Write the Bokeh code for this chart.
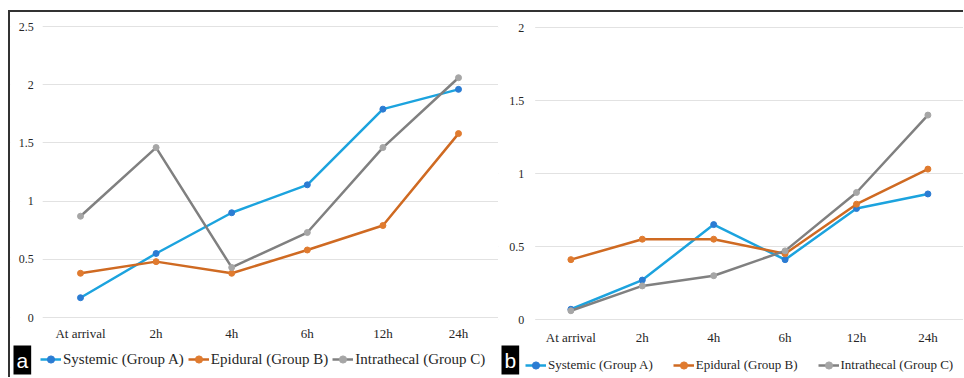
from bokeh.plotting import figure
from bokeh.layouts import row
from bokeh.models import (Legend, LegendItem, Label, FixedTicker, Range1d,
                          BoxAnnotation)
from bokeh.embed import file_html
from bokeh.resources import INLINE

categories = ["At arrival", "2h", "4h", "6h", "12h", "24h"]
series_names = ["Systemic (Group A)", "Epidural (Group B)", "Intrathecal (Group C)"]

# Panel a
a_systemic = [0.17, 0.55, 0.90, 1.14, 1.79, 1.96]
a_epidural = [0.38, 0.48, 0.38, 0.58, 0.79, 1.58]
a_intrathecal = [0.87, 1.46, 0.43, 0.73, 1.46, 2.06]
a_yticks = [0, 0.5, 1, 1.5, 2, 2.5]

# Panel b
b_systemic = [0.07, 0.27, 0.65, 0.41, 0.76, 0.86]
b_epidural = [0.41, 0.55, 0.55, 0.45, 0.79, 1.03]
b_intrathecal = [0.06, 0.23, 0.30, 0.47, 0.87, 1.40]
b_yticks = [0, 0.5, 1, 1.5, 2]

line_colors = ["#1CA3DE", "#CF6A22", "#808080"]
marker_colors = ["#2B7CD3", "#E07B2F", "#A6A6A6"]

SERIF = "Liberation Serif"
TOP, HEIGHT = 12, 365
xs = list(range(len(categories)))


def make_panel(series, yticks, left, width, x0, dx, y0, py,
               ylab_standoff, xlab_standoff, leg_font, leg_spacing, leg_loc, tag):
    x_range = Range1d((left - x0) / dx, (left + width - x0) / dx)
    y_range = Range1d((y0 - (TOP + HEIGHT)) / py, (y0 - TOP) / py)
    p = figure(x_range=x_range, y_range=y_range, width=width, height=HEIGHT,
               output_backend="svg", toolbar_location=None, min_border=0)
    p.min_border_left = 0
    p.min_border_right = 0
    p.min_border_top = 0
    p.min_border_bottom = 0
    p.outline_line_color = None
    p.xgrid.grid_line_color = None
    p.ygrid.grid_line_color = "#E2E2E2"
    p.ygrid.grid_line_width = 1
    p.ygrid.ticker = FixedTicker(ticks=yticks)
    p.yaxis.ticker = FixedTicker(ticks=yticks)
    p.xaxis.ticker = FixedTicker(ticks=xs)
    p.xaxis.major_label_overrides = {i: c for i, c in zip(xs, categories)}
    p.xaxis.fixed_location = 0
    p.yaxis.fixed_location = -0.5
    for ax in (p.xaxis, p.yaxis):
        ax.axis_line_color = None
        ax.major_tick_line_color = None
        ax.minor_tick_line_color = None
        ax.major_tick_out = 0
        ax.major_tick_in = 0
        ax.major_label_text_font = SERIF
        ax.major_label_text_font_size = "13px"
        ax.major_label_text_color = "#262626"
    p.yaxis.major_label_text_font_size = "12px"
    p.xaxis.major_label_standoff = xlab_standoff
    p.yaxis.major_label_standoff = ylab_standoff

    # hide grid lines left of the value axis
    p.add_layout(BoxAnnotation(right=-0.5, fill_color="white", fill_alpha=1,
                               line_color=None, level="underlay"))

    items = []
    for vals, name, lc, mc in zip(series, series_names, line_colors, marker_colors):
        lr = p.line(xs, vals, line_color=lc, line_width=2.5)
        sr = p.scatter(xs, vals, size=6, fill_color=mc, line_color=mc)
        items.append(LegendItem(label=name, renderers=[lr, sr]))

    leg = Legend(items=items, orientation="horizontal", location=leg_loc,
                 label_text_font=SERIF, label_text_font_size=leg_font,
                 label_text_color="#262626", glyph_width=21, glyph_height=18,
                 label_standoff=2, spacing=leg_spacing, padding=2, margin=0,
                 border_line_color=None, background_fill_alpha=0)
    p.add_layout(leg)

    lab = Label(x=3, y=3, x_units="screen", y_units="screen",
                text=tag, text_color="white", text_font="Liberation Sans",
                text_font_size="21px", background_fill_color="black",
                padding=3)
    p.add_layout(lab)
    return p


pa = make_panel([a_systemic, a_epidural, a_intrathecal], a_yticks,
                10, 488, 80.0, 75.6, 317.0, 116.4,
                9, 8, "15px", 4, (30, 9), "a")
pb = make_panel([b_systemic, b_epidural, b_intrathecal], b_yticks,
                498, 465, 570.4, 71.4, 319.0, 146.0,
                11, 10, "13px", 20, (27, 3), "b")

layout = row(pa, pb, styles={"margin-left": "8px", "margin-top": "10px",
                             "border-top": "2px solid #333333",
                             "border-left": "2px solid #333333"})

open("out.html", "w").write(file_html(layout, INLINE))
